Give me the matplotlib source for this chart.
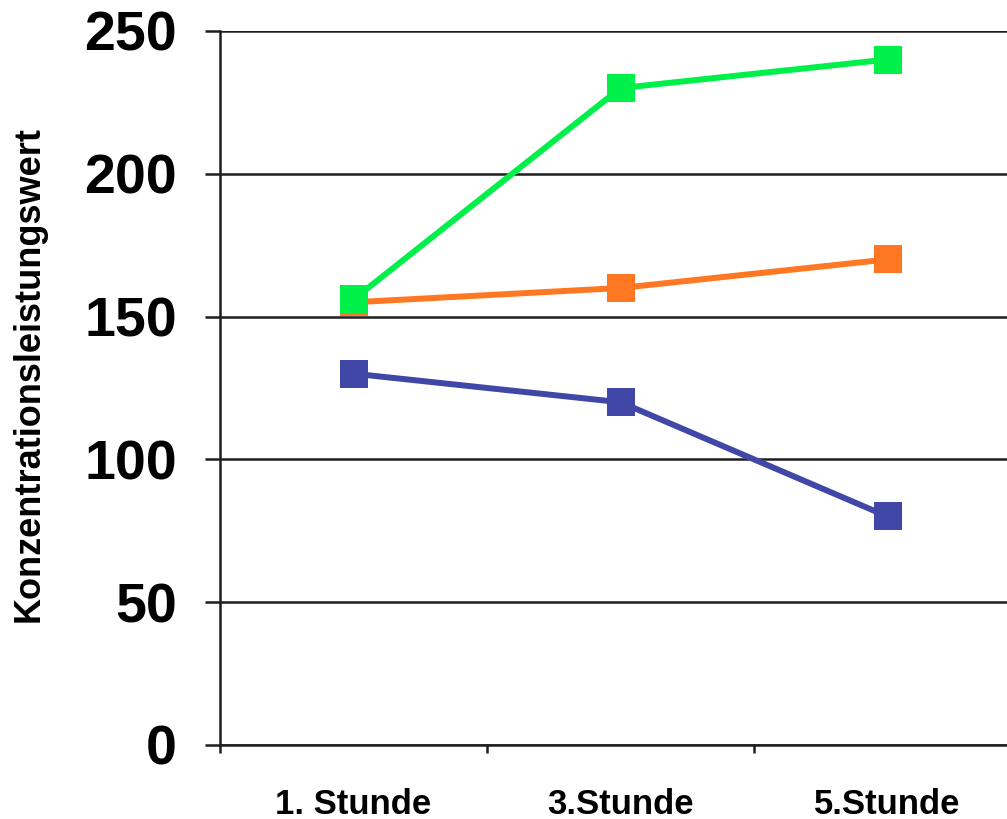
import matplotlib.pyplot as plt
from matplotlib.ticker import FixedLocator

categories = ['1. Stunde', '3.Stunde', '5.Stunde']
green_vals = [156, 230, 240]
orange_vals = [155, 160, 170]
blue_vals = [130, 120, 80]
y_ticks = [0, 50, 100, 150, 200, 250]

plt.rcParams['font.family'] = ['Liberation Sans', 'DejaVu Sans']

fig = plt.figure(figsize=(10.07, 8.19), dpi=100)
ax = fig.add_axes([0.2185, 0.0904, 0.7954, 0.8718])

x = range(len(categories))
for vals, col in [(blue_vals, '#4047a6'), (orange_vals, '#ff7722'), (green_vals, '#00f04a')]:
    ax.plot(x, vals, color=col, lw=4.3, marker='s', markersize=19.5, markeredgewidth=0,
            solid_joinstyle='miter', zorder=3)

ax.set_xlim(-0.5, 2.5)
ax.set_ylim(0, 250)
ax.set_yticks(y_ticks)
ax.yaxis.grid(True, color='#1e1e1e', lw=1.8)
ax.set_axisbelow(True)

for s in ['top', 'right']:
    ax.spines[s].set_visible(False)
for s in ['left', 'bottom']:
    ax.spines[s].set_color('#1e1e1e')
    ax.spines[s].set_linewidth(1.8)

ax.set_xticks(list(x))
ax.set_xticklabels(categories, fontsize=25, fontweight='bold')
ax.xaxis.set_minor_locator(FixedLocator([-0.5, 0.5, 1.5, 2.5]))
ax.tick_params(axis='x', which='major', length=0, pad=31)
ax.tick_params(axis='x', which='minor', length=6, width=1.8, color='#1e1e1e')

ax.set_yticklabels([str(v) for v in y_ticks], fontsize=40, fontweight='bold')
ax.tick_params(axis='y', length=11, width=1.8, color='#1e1e1e', pad=20)

ax.set_ylabel('Konzentrationsleistungswert', fontsize=26, fontweight='bold', labelpad=0)
ax.yaxis.set_label_coords(-0.217, 0.52)

fig.savefig('out.png', dpi=100)
